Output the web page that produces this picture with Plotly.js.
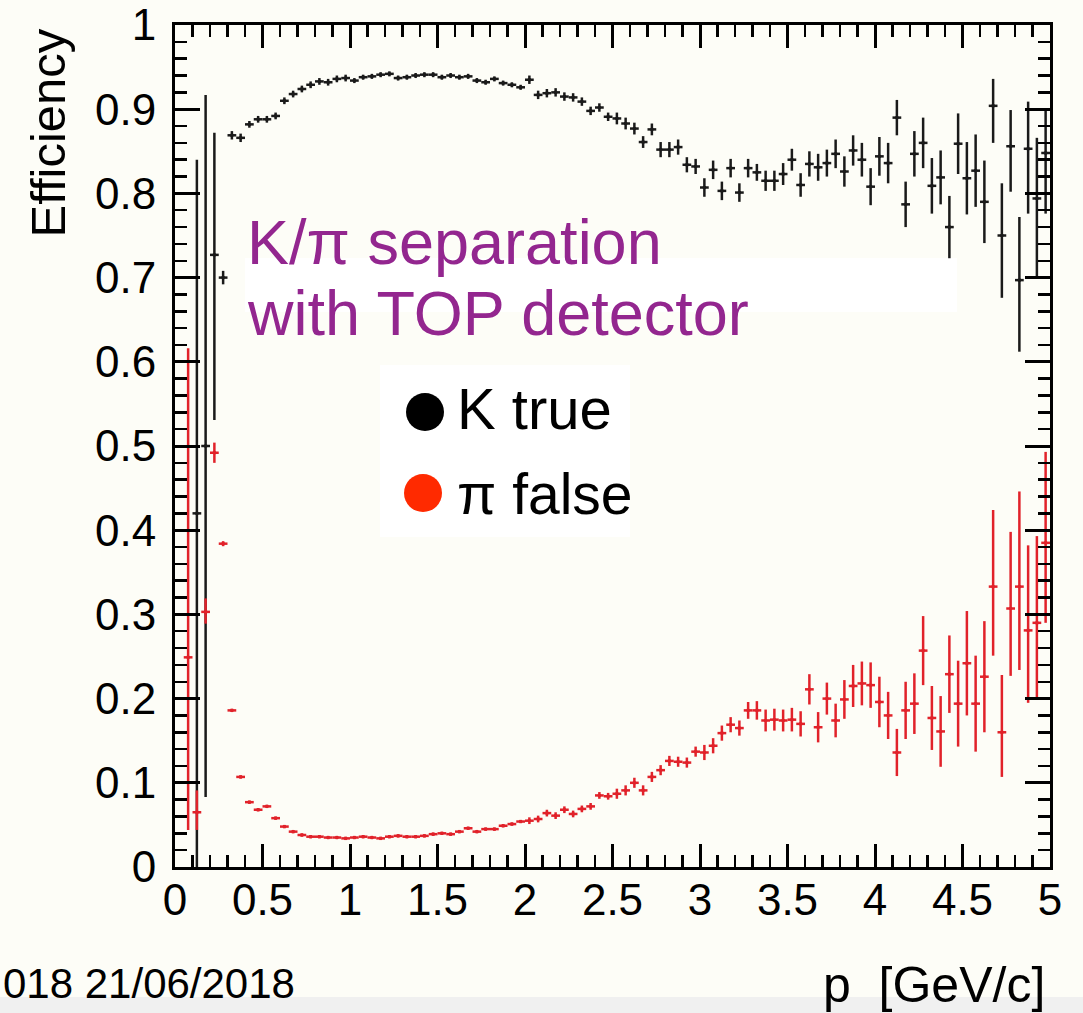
<!DOCTYPE html>
<html>
<head>
<meta charset="utf-8">
<script src="https://cdn.plot.ly/plotly-3.0.1.min.js"></script>
<style>
  html, body { margin: 0; padding: 0; background: #fdfdf7; }
  #chart { width: 1083px; height: 1013px; }
</style>
</head>
<body>
<div id="chart"></div>
<script>
// Bin centres in p [GeV/c] (bin width 0.05)
const pBins = [
  0.075,0.125,0.175,0.225,0.275,0.325,0.375,0.425,0.475,0.525,
  0.575,0.625,0.675,0.725,0.775,0.825,0.875,0.925,0.975,1.025,
  1.075,1.125,1.175,1.225,1.275,1.325,1.375,1.425,1.475,1.525,
  1.575,1.625,1.675,1.725,1.775,1.825,1.875,1.925,1.975,2.025,
  2.075,2.125,2.175,2.225,2.275,2.325,2.375,2.425,2.475,2.525,
  2.575,2.625,2.675,2.725,2.775,2.825,2.875,2.925,2.975,3.025,
  3.075,3.125,3.175,3.225,3.275,3.325,3.375,3.425,3.475,3.525,
  3.575,3.625,3.675,3.725,3.775,3.825,3.875,3.925,3.975,4.025,
  4.075,4.125,4.175,4.225,4.275,4.325,4.375,4.425,4.475,4.525,
  4.575,4.625,4.675,4.725,4.775,4.825,4.875,4.925,4.975
];
const binHalfWidth = 0.025;

// K true efficiency
const kTrue = [
  null,0.42,0.50,0.727,0.700,0.869,0.866,0.882,0.888,0.888,
  0.892,0.910,0.918,0.924,0.929,0.933,0.932,0.936,0.937,0.934,
  0.938,0.939,0.941,0.942,0.937,0.938,0.940,0.941,0.941,0.938,
  0.940,0.938,0.939,0.934,0.932,0.936,0.931,0.929,0.926,0.935,
  0.917,0.919,0.920,0.915,0.914,0.909,0.898,0.902,0.891,0.889,
  0.883,0.877,0.861,0.876,0.852,0.852,0.855,0.834,0.832,0.807,
  0.828,0.803,0.830,0.801,0.830,0.825,0.815,0.815,0.823,0.840,
  0.810,0.835,0.831,0.836,0.847,0.826,0.851,0.840,0.808,0.844,
  0.836,0.890,0.787,0.847,0.860,0.809,0.819,0.760,0.859,0.818,
  0.827,0.790,0.904,0.750,0.856,0.697,0.853,0.794,0.848
];
const kErrUp = [
  null,0.42,0.417,0.145,0.008,0.005,0.005,0.004,0.004,0.004,
  0.004,0.004,0.004,0.004,0.004,0.004,0.004,0.004,0.004,0.003,
  0.003,0.003,0.003,0.003,0.003,0.003,0.003,0.003,0.003,0.003,
  0.003,0.003,0.003,0.003,0.003,0.003,0.003,0.003,0.003,0.005,
  0.005,0.005,0.005,0.005,0.005,0.005,0.005,0.005,0.005,0.007,
  0.007,0.007,0.007,0.007,0.009,0.009,0.009,0.009,0.009,0.011,
  0.011,0.011,0.011,0.011,0.011,0.010,0.012,0.012,0.013,0.013,
  0.014,0.015,0.016,0.016,0.017,0.018,0.018,0.020,0.022,0.023,
  0.024,0.021,0.027,0.027,0.030,0.033,0.032,0.037,0.036,0.043,
  0.043,0.049,0.032,0.062,0.043,0.075,0.056,0.072,0.051
];
const kErrDown = [
  null,0.42,0.417,0.196,0.008,0.005,0.005,0.004,0.004,0.004,
  0.004,0.004,0.004,0.004,0.004,0.004,0.004,0.004,0.004,0.003,
  0.003,0.003,0.003,0.003,0.003,0.003,0.003,0.003,0.003,0.003,
  0.003,0.003,0.003,0.003,0.003,0.003,0.003,0.003,0.003,0.005,
  0.005,0.005,0.005,0.005,0.005,0.005,0.005,0.005,0.005,0.007,
  0.007,0.007,0.007,0.007,0.009,0.009,0.009,0.009,0.009,0.011,
  0.011,0.011,0.011,0.011,0.011,0.010,0.012,0.012,0.013,0.013,
  0.014,0.015,0.016,0.016,0.017,0.018,0.018,0.020,0.022,0.023,
  0.024,0.021,0.027,0.027,0.030,0.033,0.032,0.037,0.036,0.043,
  0.043,0.049,0.044,0.074,0.054,0.085,0.077,0.094,0.072
];

// pi false (mis-ID) rate
const piFalse = [
  0.249,0.065,0.303,0.492,0.384,0.186,0.107,0.077,0.068,0.072,
  0.058,0.048,0.042,0.038,0.036,0.036,0.035,0.035,0.034,0.035,
  0.036,0.035,0.034,0.036,0.037,0.036,0.036,0.037,0.039,0.040,
  0.039,0.042,0.046,0.042,0.045,0.045,0.049,0.051,0.054,0.055,
  0.057,0.064,0.061,0.068,0.063,0.069,0.072,0.085,0.084,0.087,
  0.091,0.100,0.091,0.107,0.115,0.126,0.125,0.124,0.137,0.136,
  0.144,0.159,0.169,0.165,0.186,0.186,0.174,0.175,0.174,0.175,
  0.170,0.211,0.166,0.200,0.174,0.199,0.215,0.218,0.216,0.196,
  0.180,0.136,0.186,0.194,0.257,0.177,0.161,0.229,0.194,0.242,
  0.194,0.226,0.333,0.160,0.307,0.333,0.281,0.290,0.385
];
const piErrUp = [
  0.367,0.026,0.016,0.012,0.003,0.002,0.002,0.002,0.002,0.002,
  0.002,0.002,0.002,0.002,0.002,0.002,0.002,0.002,0.002,0.002,
  0.002,0.002,0.002,0.002,0.002,0.002,0.002,0.002,0.002,0.002,
  0.002,0.002,0.002,0.002,0.002,0.002,0.002,0.002,0.002,0.004,
  0.004,0.004,0.004,0.004,0.004,0.004,0.004,0.004,0.004,0.006,
  0.006,0.006,0.006,0.006,0.006,0.006,0.006,0.006,0.006,0.009,
  0.009,0.009,0.009,0.009,0.010,0.011,0.013,0.013,0.013,0.014,
  0.015,0.018,0.018,0.019,0.020,0.023,0.025,0.026,0.027,0.030,
  0.028,0.028,0.034,0.036,0.041,0.038,0.042,0.046,0.051,0.062,
  0.057,0.066,0.091,0.068,0.091,0.113,0.101,0.103,0.108
];
const piErrDown = [
  0.205,0.021,0.014,0.012,0.003,0.002,0.002,0.002,0.002,0.002,
  0.002,0.002,0.002,0.002,0.002,0.002,0.002,0.002,0.002,0.002,
  0.002,0.002,0.002,0.002,0.002,0.002,0.002,0.002,0.002,0.002,
  0.002,0.002,0.002,0.002,0.002,0.002,0.002,0.002,0.002,0.004,
  0.004,0.004,0.004,0.004,0.004,0.004,0.004,0.004,0.004,0.006,
  0.006,0.006,0.006,0.006,0.006,0.006,0.006,0.006,0.006,0.009,
  0.009,0.009,0.009,0.009,0.010,0.011,0.013,0.013,0.013,0.014,
  0.015,0.018,0.018,0.019,0.020,0.023,0.025,0.026,0.027,0.030,
  0.028,0.028,0.034,0.036,0.041,0.038,0.042,0.046,0.051,0.062,
  0.057,0.066,0.082,0.053,0.080,0.099,0.086,0.089,0.095
];

const xTickVals = [0, 0.5, 1, 1.5, 2, 2.5, 3, 3.5, 4, 4.5, 5];
const xTickText = ['0', '0.5', '1', '1.5', '2', '2.5', '3', '3.5', '4', '4.5', '5'];
const yTickVals = [0, 0.1, 0.2, 0.3, 0.4, 0.5, 0.6, 0.7, 0.8, 0.9, 1];
const yTickText = ['0', '0.1', '0.2', '0.3', '0.4', '0.5', '0.6', '0.7', '0.8', '0.9', '1'];

const FONT = 'Liberation Sans, Arial, Helvetica, sans-serif';
const BLACK = '#1a1a1a';
const RED = '#e1222a';
const PURPLE = '#93268f';

function errTrace(name, y, up, down, color) {
  return {
    type: 'scatter', mode: 'markers', name: name,
    x: pBins, y: y,
    marker: { size: 3, symbol: 'square', color: color },
    error_x: { type: 'constant', value: binHalfWidth, color: color, thickness: 2.5, width: 0 },
    error_y: { type: 'data', symmetric: false, array: up, arrayminus: down, color: color, thickness: 2.5, width: 0 },
    hoverinfo: 'skip', cliponaxis: true
  };
}

const data = [
  errTrace('K true', kTrue, kErrUp, kErrDown, BLACK),
  errTrace('π false', piFalse, piErrUp, piErrDown, RED)
];

// pixel -> paper helpers (plot area 175..1050 x 25..867)
const L = 175, T = 25, PW = 875, PH = 842;
const px = v => (v - L) / PW;
const py = v => (T + PH - v) / PH;

const axisCommon = {
  showgrid: false, zeroline: false,
  showline: true, linecolor: '#000', linewidth: 3,
  mirror: 'allticks', ticks: 'inside', tickcolor: '#000', tickwidth: 3,
  tickfont: { family: FONT, size: 44, color: '#000' },
  fixedrange: true
};

const layout = {
  width: 1083, height: 1013, autosize: false,
  margin: { l: L, r: 1083 - L - PW, t: T, b: 1013 - T - PH, pad: 0 },
  paper_bgcolor: '#fdfdf7', plot_bgcolor: '#fdfdf7',
  showlegend: false, hovermode: false,
  xaxis: Object.assign({}, axisCommon, {
    range: [0, 5], tickmode: 'array', tickvals: xTickVals, ticktext: xTickText,
    ticklen: 23, ticklabelstandoff: -8,
    minor: { dtick: 0.1, tick0: 0, ticks: 'inside', ticklen: 12, tickwidth: 2.5, tickcolor: '#000', showgrid: false }
  }),
  yaxis: Object.assign({}, axisCommon, {
    range: [0, 1], tickmode: 'array', tickvals: yTickVals, ticktext: yTickText,
    ticklen: 25, ticklabelstandoff: 7,
    minor: { dtick: 0.02, tick0: 0, ticks: 'inside', ticklen: 12, tickwidth: 2.5, tickcolor: '#000', showgrid: false }
  }),
  shapes: [
    { type: 'rect', xref: 'paper', yref: 'paper', layer: 'below',
      x0: px(245), x1: px(957), y0: py(312), y1: py(258),
      fillcolor: '#ffffff', line: { width: 0 } },
    { type: 'rect', xref: 'paper', yref: 'paper', layer: 'below',
      x0: px(380), x1: px(630), y0: py(537), y1: py(365),
      fillcolor: '#ffffff', line: { width: 0 } },
    { type: 'circle', xref: 'paper', yref: 'paper', xsizemode: 'pixel', ysizemode: 'pixel',
      xanchor: px(425), yanchor: py(412), x0: -19, x1: 19, y0: -19, y1: 19,
      fillcolor: '#000000', line: { width: 0 } },
    { type: 'circle', xref: 'paper', yref: 'paper', xsizemode: 'pixel', ysizemode: 'pixel',
      xanchor: px(423), yanchor: py(493), x0: -19, x1: 19, y0: -19, y1: 19,
      fillcolor: '#ff2a00', line: { width: 0 } },
    { type: 'rect', xref: 'paper', yref: 'paper', layer: 'below',
      x0: px(0), x1: px(1083), y0: py(1013), y1: py(997),
      fillcolor: '#f0f0f0', line: { width: 0 } }
  ],
  annotations: [
    { text: 'Efficiency', xref: 'paper', yref: 'paper', x: px(47), y: py(28),
      xanchor: 'center', yanchor: 'top', textangle: -90, showarrow: false, borderpad: 0,
      font: { family: FONT, size: 49, color: '#000' } },
    { text: 'K/π separation', xref: 'paper', yref: 'paper', x: px(246), y: py(242),
      xanchor: 'left', yanchor: 'middle', showarrow: false, borderpad: 0,
      font: { family: FONT, size: 63, color: PURPLE } },
    { text: 'with TOP detector', xref: 'paper', yref: 'paper', x: px(246), y: py(313),
      xanchor: 'left', yanchor: 'middle', showarrow: false, borderpad: 0,
      font: { family: FONT, size: 63, color: PURPLE } },
    { text: 'K true', xref: 'paper', yref: 'paper', x: px(456), y: py(409),
      xanchor: 'left', yanchor: 'middle', showarrow: false, borderpad: 0,
      font: { family: FONT, size: 58, color: '#000' } },
    { text: 'π false', xref: 'paper', yref: 'paper', x: px(456), y: py(494),
      xanchor: 'left', yanchor: 'middle', showarrow: false, borderpad: 0,
      font: { family: FONT, size: 57, color: '#000' } },
    { text: 'p\u00a0\u00a0[GeV/c]', xref: 'paper', yref: 'paper', x: px(1046), y: py(985),
      xanchor: 'right', yanchor: 'middle', showarrow: false, borderpad: 0,
      font: { family: FONT, size: 50, color: '#000' } },
    { text: '018 21/06/2018', xref: 'paper', yref: 'paper', x: px(2), y: py(984),
      xanchor: 'left', yanchor: 'middle', showarrow: false, borderpad: 0,
      font: { family: FONT, size: 42, color: '#000' } }
  ]
};

Plotly.newPlot('chart', data, layout, { staticPlot: true, displayModeBar: false });
</script>
</body>
</html>
